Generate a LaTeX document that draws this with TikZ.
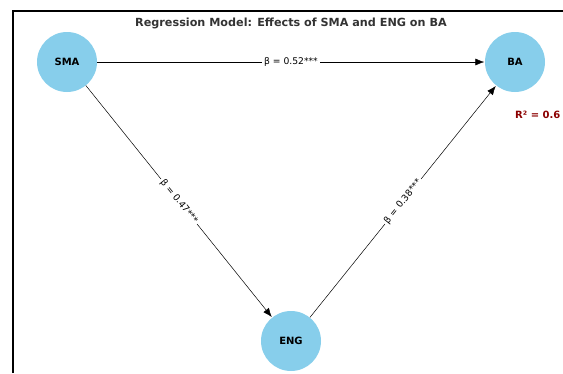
\documentclass[tikz,border=0pt]{standalone}
\usepackage{fontspec}
\setmainfont{DejaVu Sans}
\usetikzlibrary{arrows.meta}
\definecolor{skyblue}{HTML}{87CEEB}
\definecolor{darkred}{HTML}{8B0000}
\definecolor{titlegray}{HTML}{333333}
\tikzset{
  var/.style={circle, fill=skyblue, minimum size=60pt, inner sep=0pt, font=\fontsize{10}{12}\selectfont\bfseries},
  path/.style={-{Latex[length=9pt,width=7pt]}, line width=0.5pt, shorten >=0.5pt},
  coef/.style={fill=white, inner sep=2pt, font=\fontsize{9.2}{11}\selectfont, sloped}
}
\begin{document}
\begin{tikzpicture}[x=1pt,y=-1pt]
    \useasboundingbox (0,0) rectangle (563,373);
    \draw [line width=1.5pt] (13,373)--(13,11)--(563,11);
    \node (title) at (291,23) {\fontsize{11.2}{13}\selectfont\bfseries\color{titlegray}Regression Model: Effects of SMA and ENG on BA};
    \node[var] (sma) at (67,62)  {SMA};
    \node[var] (ba)  at (515,62) {BA};
    \node[var] (eng) at (291,341) {ENG};
    \draw [path] (sma) -- (ba)  node[coef, midway] {β = 0.52***};
    \draw [path] (sma) -- (eng) node[coef, midway] {β = 0.47***};
    \draw [path] (eng) -- (ba)  node[coef, midway] {β = 0.38***};
    \node[anchor=west, inner sep=0pt, text=darkred, font=\fontsize{10}{12}\selectfont\bfseries] (rsq) at (515,115) {R² = 0.6};
\end{tikzpicture}
\end{document}
